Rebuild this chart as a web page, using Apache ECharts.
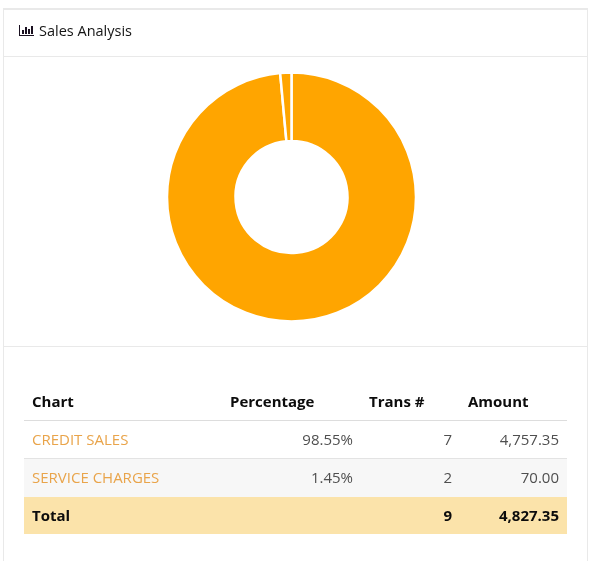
<!DOCTYPE html>
<html>
<head>
<meta charset="utf-8">
<style>
html, body { margin: 0; padding: 0; background: #fff; }
#main { width: 591px; height: 561px; }
</style>
<script src="https://cdn.jsdelivr.net/npm/echarts@6/dist/echarts.min.js"></script>
</head>
<body>
<div id="main"></div>
<script>
// Sales breakdown
const categories = ['CREDIT SALES', 'SERVICE CHARGES'];
const amounts = [4757.35, 70.00];
const amountLabels = ['4,757.35', '70.00'];
const percentLabels = ['98.55%', '1.45%'];
const transCounts = [7, 2];
const totalTrans = 9;
const totalAmount = '4,827.35';
const headers = ['Chart', 'Percentage', 'Trans #', 'Amount'];
const panelTitle = 'Sales Analysis';

const FONT = '"Open Sans", sans-serif';
const BORDER = '#e9e9e9';
const LINK = '#e9a44a';
const BODY = '#4f4f4f';
const INK = '#0c0c0c';

function rect(x, y, w, h, fill) {
  return { type: 'rect', silent: true, shape: { x, y, width: w, height: h }, style: { fill } };
}
function text(x, y, str, opts) {
  opts = opts || {};
  return {
    type: 'text', silent: true, x, y,
    style: {
      text: String(str), fill: opts.fill || BODY,
      font: (opts.bold ? '700 ' : '400 ') + (opts.size || 15) + 'px ' + FONT,
      textAlign: opts.align || 'left', textVerticalAlign: 'middle'
    }
  };
}

const elements = [
  // panel frame and dividers
  rect(3, 8, 585, 2, BORDER),
  rect(3, 8, 1, 553, BORDER),
  rect(587, 8, 1, 553, BORDER),
  rect(4, 56, 583, 1, BORDER),
  rect(4, 346, 583, 1, BORDER),
  // panel heading icon
  rect(19, 35, 15, 1, '#1a1020'),
  rect(19, 25, 1, 10, '#1a1020'),
  rect(22, 30, 2, 4, '#1a1020'),
  rect(25, 27, 2, 7, '#1a1020'),
  rect(28, 29, 2, 5, '#1a1020'),
  rect(31, 26, 2, 8, '#1a1020'),
  text(39, 32, panelTitle, { fill: '#151515', size: 14.5 }),
  // table bands
  rect(24, 420, 543, 1, '#dddddd'),
  rect(24, 458, 543, 1, '#e3e3e3'),
  rect(24, 459, 543, 38, '#f7f7f7'),
  rect(24, 497, 543, 37, '#fbe3aa'),
  // header row
  text(32, 403, headers[0], { bold: true, fill: INK }),
  text(230, 403, headers[1], { bold: true, fill: INK }),
  text(369, 403, headers[2], { bold: true, fill: INK }),
  text(468, 403, headers[3], { bold: true, fill: INK })
];

// body rows
const rowY = [441, 479];
categories.forEach((name, i) => {
  elements.push(
    text(32, rowY[i], name, { fill: LINK }),
    text(353, rowY[i], percentLabels[i], { align: 'right' }),
    text(452, rowY[i], transCounts[i], { align: 'right' }),
    text(559, rowY[i], amountLabels[i], { align: 'right' })
  );
});

// totals row
elements.push(
  text(32, 517, 'Total', { bold: true, fill: INK }),
  text(452, 517, totalTrans, { bold: true, fill: INK, align: 'right' }),
  text(559, 517, totalAmount, { bold: true, fill: INK, align: 'right' })
);

const chart = echarts.init(document.getElementById('main'));
chart.setOption({
  animation: false,
  graphic: { elements },
  series: [{
    type: 'pie',
    center: [291.5, 197],
    radius: [56, 124.5],
    startAngle: 90,
    label: { show: false },
    labelLine: { show: false },
    itemStyle: { color: '#ffa500', borderColor: '#ffffff', borderWidth: 2.5 },
    data: categories.map((name, i) => ({ name, value: amounts[i] }))
  }]
});
</script>
</body>
</html>
